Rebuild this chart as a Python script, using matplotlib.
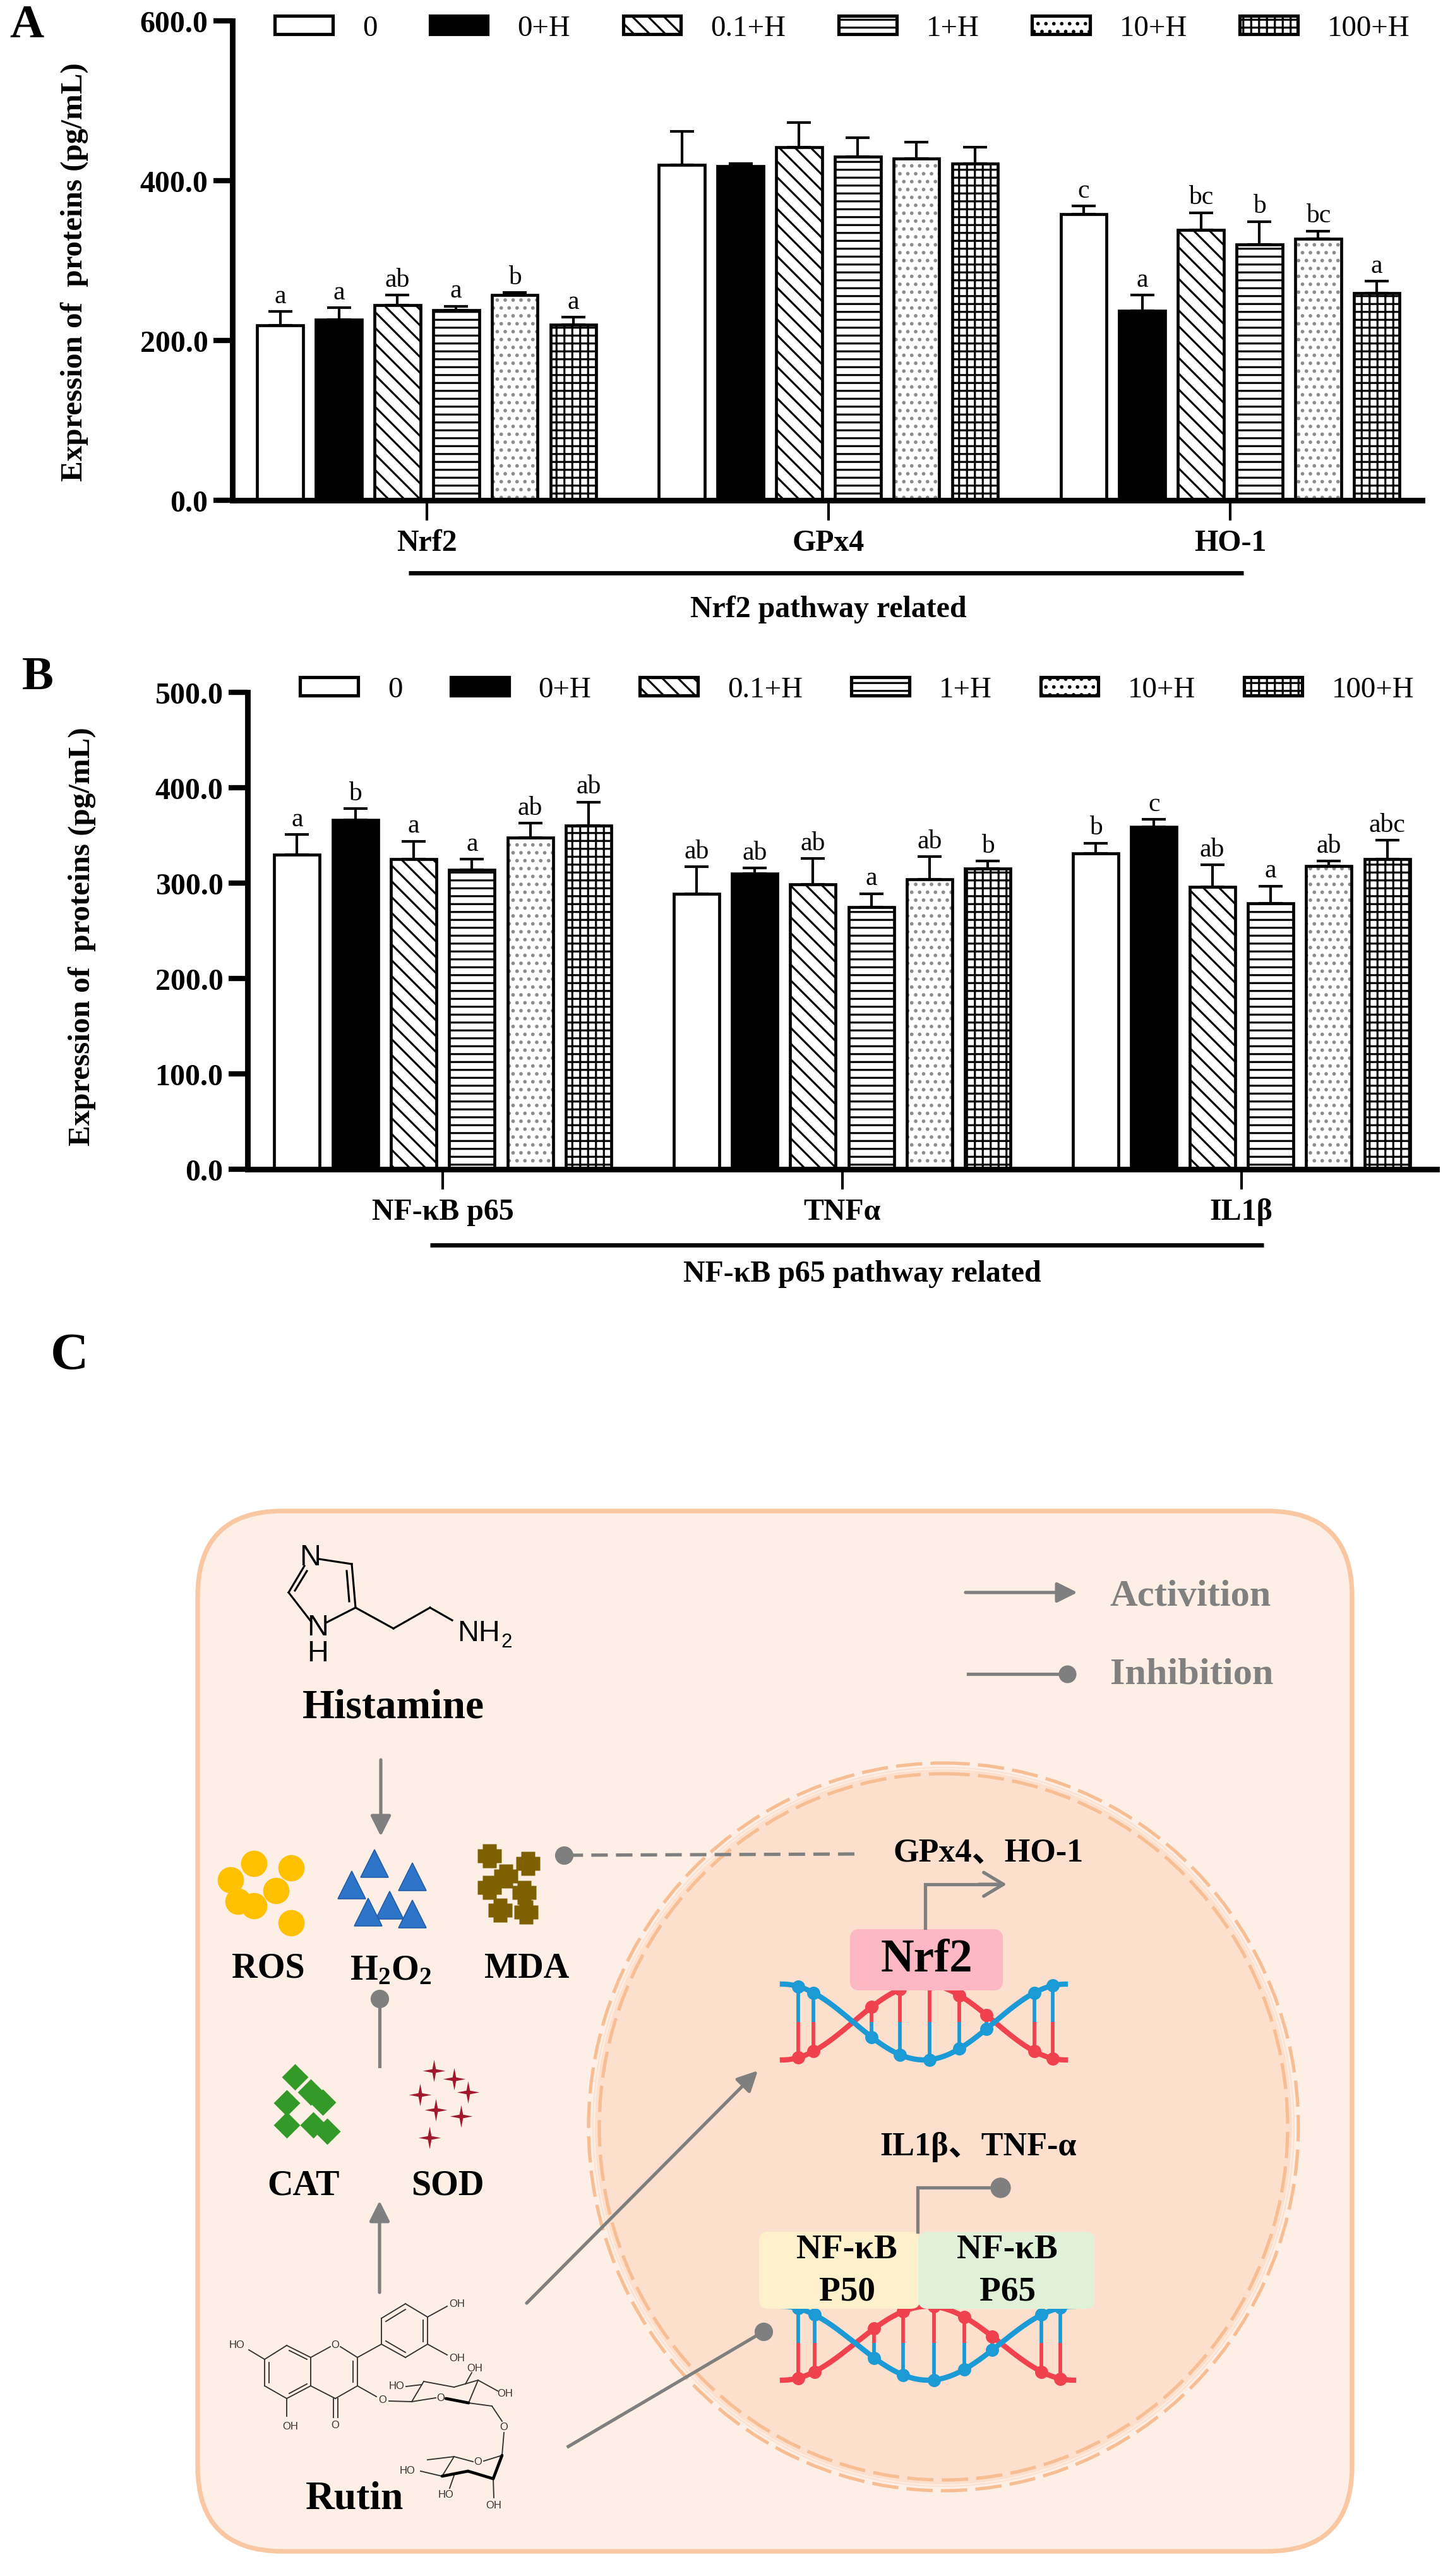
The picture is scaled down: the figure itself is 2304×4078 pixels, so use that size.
import numpy as np
import matplotlib
matplotlib.use('Agg')
import matplotlib.pyplot as plt
from matplotlib.patches import Patch, FancyBboxPatch, Ellipse, FancyArrowPatch
from matplotlib.path import Path
from matplotlib.transforms import blended_transform_factory

plt.rcParams['font.family'] = ['Liberation Serif', 'Noto Sans CJK SC', 'DejaVu Sans']
plt.rcParams['hatch.linewidth'] = 3.0
plt.rcParams['mathtext.fontset'] = 'custom'
plt.rcParams['mathtext.rm'] = 'Liberation Serif:bold'
plt.rcParams['mathtext.bf'] = 'Liberation Serif:bold'

# ---------------- data ----------------
groups = ['0', '0+H', '0.1+H', '1+H', '10+H', '100+H']

genes_a = ['Nrf2', 'GPx4', 'HO-1']
nrf2 = [219, 226, 244, 238, 257, 220]
nrf2_sd = [17, 15, 13, 5, 3, 9]
nrf2_sig = ['a', 'a', 'ab', 'a', 'b', 'a']
gpx4 = [420, 418, 442, 430, 428, 421]
gpx4_sd = [42, 3, 31, 24, 20, 21]
gpx4_sig = ['', '', '', '', '', '']
ho1 = [358, 237, 338, 320, 327, 259]
ho1_sd = [10, 20, 22, 29, 10, 15]
ho1_sig = ['c', 'a', 'bc', 'b', 'bc', 'a']

genes_b = ['NF-κB p65', 'TNFα', 'IL1β']
nfkb = [330, 366, 325, 314, 348, 360]
nfkb_sd = [21, 12, 19, 11, 15, 25]
nfkb_sig = ['a', 'b', 'a', 'a', 'ab', 'ab']
tnf = [289, 310, 299, 275, 304, 315]
tnf_sd = [28, 6, 27, 14, 24, 8]
tnf_sig = ['ab', 'ab', 'ab', 'a', 'ab', 'b']
il1b = [331, 359, 296, 279, 318, 325]
il1b_sd = [11, 8, 23, 18, 5, 20]
il1b_sig = ['b', 'c', 'ab', 'a', 'ab', 'abc']

faces = ['white', 'black', 'white', 'white', 'white', 'white']
hatches = [None, None, '\\', '-', '.', '+']
hatch_cols = ['black', 'black', 'black', 'black', '#8c8c8c', 'black']

W, H = 2304, 4079
DPI = 75
fig = plt.figure(figsize=(W / DPI, H / DPI), dpi=DPI)


def fx(px):
    return px / W


def fy(py):
    return 1 - py / H


def bar_panel(rect, xlim, ymax, ystep, genes, means, sds, sigs, ylab_x, ylab_y,
              leg_xy, colsp, bracket, note):
    left, top, right, bottom = rect
    ax = fig.add_axes([fx(left), fy(bottom), (right - left) / W, (bottom - top) / H])
    x = np.arange(len(genes))
    step, width = 0.146, 0.114
    handles = []
    for j, g in enumerate(groups):
        xs = x + (j - 2.5) * step
        vals = [m[j] for m in means]
        errs = [s[j] for s in sds]
        ax.bar(xs, vals, width, color=faces[j], edgecolor=hatch_cols[j],
               hatch=hatches[j], linewidth=0, zorder=2)
        ax.bar(xs, vals, width, fill=False, edgecolor='black', linewidth=4.5, zorder=3)
        ax.errorbar(xs, vals, yerr=[np.zeros(len(vals)), errs], fmt='none',
                    ecolor='black', elinewidth=4, capsize=18, capthick=4, zorder=4)
        for xi, v, e, s in zip(xs, vals, errs, [sg[j] for sg in sigs]):
            if s:
                ax.annotate(s, (xi, v + e), xytext=(0, 5), textcoords='offset points',
                            ha='center', va='bottom', fontsize=40)
        handles.append(Patch(facecolor=faces[j], edgecolor='black',
                             hatch=hatches[j], linewidth=5))

    ax.set_xlim(*xlim)
    ax.set_ylim(0, ymax)
    yt = np.arange(0, ymax + 1, ystep)
    ax.set_yticks(yt)
    ax.set_yticklabels([f'{v:.1f}' for v in yt], fontsize=46, fontweight='bold')
    ax.set_xticks(x)
    ax.set_xticklabels(genes, fontsize=46, fontweight='bold')
    for sp in ['top', 'right']:
        ax.spines[sp].set_visible(False)
    for sp in ['left', 'bottom']:
        ax.spines[sp].set_linewidth(8.5)
        ax.spines[sp].set_capstyle('projecting')
    ax.tick_params(axis='y', length=29, width=8, pad=8)
    ax.tick_params(axis='x', length=31, width=4, pad=12)
    ax.set_ylabel('Expression of  proteins (pg/mL)', fontsize=47, fontweight='bold')
    ax.yaxis.set_label_coords(ylab_x, ylab_y)

    fig.legend(handles, groups, loc='center left',
               bbox_to_anchor=(fx(leg_xy[0]), fy(leg_xy[1])), ncol=6, frameon=False,
               borderpad=0, borderaxespad=0, handlelength=1.96, handleheight=0.57,
               handletextpad=1.0, columnspacing=colsp, fontsize=45)

    tr = blended_transform_factory(ax.transData, ax.transAxes)
    ax.plot(bracket[:2], [bracket[2]] * 2, color='black', lw=6.5, transform=tr,
            clip_on=False, solid_capstyle='butt')
    ax.text(note[1], note[2], note[0], transform=tr, ha='center', va='center',
            fontsize=46, fontweight='bold')
    return ax


bar_panel((368, 34, 2252, 793), (-0.484, 2.478), 600, 200, genes_a,
          [nrf2, gpx4, ho1], [nrf2_sd, gpx4_sd, ho1_sd], [nrf2_sig, gpx4_sig, ho1_sig],
          -0.121, 0.478, (435, 46), 1.78, (-0.045, 2.033, -0.1515),
          ('Nrf2 pathway related', 1.0, -0.2266))
bar_panel((392, 1097, 2275, 1852), (-0.489, 2.489), 500, 100, genes_b,
          [nfkb, tnf, il1b], [nfkb_sd, tnf_sd, il1b_sd], [nfkb_sig, tnf_sig, il1b_sig],
          -0.1275, 0.489, (475, 1093), 1.64, (-0.032, 2.055, -0.159),
          ('NF-κB p65 pathway related', 1.05, -0.2185))

fig.text(fx(42), fy(41), 'A', fontsize=72, fontweight='bold', ha='center', va='center')
fig.text(fx(60), fy(1073), 'B', fontsize=72, fontweight='bold', ha='center', va='center')

# ---------------- panel C (schematic, pixel coordinates) ----------------
ax = fig.add_axes([0, 0, 1, 1 - 2080 / H])
ax.set_xlim(0, W)
ax.set_ylim(H, 2080)
ax.axis('off')

GRAY = '#7f7f7f'
BLUE = '#1b9ad6'
RED = '#f0414f'

ax.text(110, 2148, 'C', fontsize=80, fontweight='bold', ha='center', va='center')

# cell and nucleus
ax.add_patch(FancyBboxPatch((313, 2393), 2141 - 313, 4040 - 2393,
                            boxstyle='round,pad=0,rounding_size=135',
                            fc='#fdefe6', ec='#f9c8a3', lw=7, zorder=1))
nuc_c, nuc_w, nuc_h = (1494, 3368), 1124, 1152
ax.add_patch(Ellipse(nuc_c, nuc_w - 12, nuc_h - 12, fc='#fce0cd', ec='none', zorder=1.5))
ax.add_patch(Ellipse(nuc_c, nuc_w - 18, nuc_h - 18, fill=False, ec='#fdeee4', lw=2, zorder=1.6))
for d in [0, 34]:
    ax.add_patch(Ellipse(nuc_c, nuc_w - d, nuc_h - d, fill=False, ec='#f7bd93', lw=5,
                         linestyle=(0, (8, 2.5)), zorder=1.7))

# legend of symbols
ax.add_patch(FancyArrowPatch((1529, 2522), (1706, 2522),
                             arrowstyle='-|>,head_length=26,head_width=13',
                             color=GRAY, lw=5, shrinkA=0, shrinkB=0, zorder=6))
ax.plot([1533, 1690], [2651, 2651], color=GRAY, lw=5, zorder=6)
ax.plot([1690], [2651], 'o', color=GRAY, ms=26, zorder=6)
ax.text(1757, 2528, 'Activition', color='#808080', fontsize=58, fontweight='bold',
        ha='left', va='center')
ax.text(1758, 2652, 'Inhibition', color='#808080', fontsize=58, fontweight='bold',
        ha='left', va='center')

# histamine
hist_bonds = [((505, 2469), (557, 2477)), ((557, 2477), (563, 2546)),
              ((549, 2488), (553, 2536)), ((563, 2546), (516, 2570)),
              ((491, 2566), (457, 2522)), ((457, 2522), (482, 2480)),
              ((467, 2519), (486, 2488)), ((563, 2546), (623, 2579)),
              ((623, 2579), (681, 2546)), ((681, 2546), (716, 2566))]
for (x0, y0), (x1, y1) in hist_bonds:
    ax.plot([x0, x1], [y0, y1], color='black', lw=3, zorder=5)
for xa, ya, s in [(491, 2466, 'N'), (503, 2577, 'N'), (503, 2618, 'H')]:
    ax.text(xa, ya, s, family='Liberation Sans', fontsize=45, ha='center', va='center', zorder=5)
ax.text(724, 2586, 'NH', family='Liberation Sans', fontsize=45, ha='left', va='center')
ax.text(793, 2600, '2', family='Liberation Sans', fontsize=30, ha='left', va='center')
ax.text(623, 2704, 'Histamine', fontsize=63, fontweight='bold', ha='center', va='center')

# ROS / H2O2 / MDA
ros_xy = [(402, 2951), (461, 2958), (365, 2977), (437, 2994), (377, 3011), (402, 3018), (461, 3045)]
h2o2_xy = [(593, 2951), (557, 2985), (653, 2972), (617, 3017), (583, 3028), (653, 3031)]
mda_xy = [(775, 2939), (836, 2951), (801, 2971), (775, 2989), (830, 2997), (792, 3025), (833, 3028)]
cat_xy = [(467, 3289), (454, 3330), (492, 3313), (511, 3329), (454, 3365), (496, 3365), (518, 3375)]
sod_xy = [(687, 3279), (719, 3292), (741, 3313), (665, 3317), (690, 3341), (730, 3351), (680, 3385)]

plus_mk = Path([(-0.3, -0.5), (0.3, -0.5), (0.3, -0.3), (0.5, -0.3), (0.5, 0.3), (0.3, 0.3),
                (0.3, 0.5), (-0.3, 0.5), (-0.3, 0.3), (-0.5, 0.3), (-0.5, -0.3), (-0.3, -0.3),
                (-0.3, -0.5)], closed=True)
star_mk = Path([(0, 1), (0.16, 0.16), (1, 0), (0.16, -0.16), (0, -1), (-0.16, -0.16),
                (-1, 0), (-0.16, 0.16), (0, 1)], closed=True)

ax.plot(*zip(*ros_xy), 'o', color='#ffc000', ms=40, mec='none', zorder=5)
ax.plot(*zip(*h2o2_xy), '^', color='#2e74c9', ms=42, mec='#1f5ba8', mew=1.5, zorder=5)
ax.plot(*zip(*mda_xy), marker=plus_mk, ls='none', color='#7f6000', ms=36, mec='none', zorder=5)
ax.plot(*zip(*cat_xy), 'D', color='#339a2a', ms=28, mec='none', zorder=5)
ax.plot(*zip(*sod_xy), marker=star_mk, ls='none', color='#a0182a', ms=34, mec='none', zorder=5)

ax.text(425, 3117, 'ROS', fontsize=54, fontweight='bold', ha='center', va='center')
ax.text(619, 3120, r'$\mathrm{H_2O_2}$', fontsize=54, ha='center', va='center')
ax.text(834, 3117, 'MDA', fontsize=54, fontweight='bold', ha='center', va='center')
ax.text(480, 3461, 'CAT', fontsize=54, fontweight='bold', ha='center', va='center')
ax.text(709, 3461, 'SOD', fontsize=54, fontweight='bold', ha='center', va='center')


def arrow(p0, p1, style='-|>', hl=26, hw=13):
    ax.add_patch(FancyArrowPatch(p0, p1, arrowstyle=f'{style},head_length={hl},head_width={hw}',
                                 color=GRAY, lw=5, shrinkA=0, shrinkB=0, zorder=6))


def inhibit(p0, p1, dashed=False):
    ax.plot([p0[0], p1[0]], [p0[1], p1[1]], color=GRAY, lw=5, zorder=6,
            ls=(0, (5, 2.5)) if dashed else '-')
    ax.plot([p1[0]], [p1[1]], 'o', color=GRAY, ms=27, zorder=6)


arrow((603, 2787), (603, 2908))
arrow((601, 3630), (601, 3485))
inhibit((601, 3272), (601, 3165))
inhibit((1353, 2936), (893, 2938), dashed=True)
arrow((834, 3647), (1200, 3279))
inhibit((900, 3874), (1209, 3692))

# DNA helices
dna_rungs = [0.055, 0.11, 0.315, 0.415, 0.52, 0.625, 0.72, 0.89, 0.955]
dna_dots = [0.055, 0.11, 0.315, 0.415, 0.52, 0.625, 0.72, 0.89, 0.955]


def dna(x0, x1, ytop, ybot):
    t = np.linspace(0, 1, 300)
    xs = x0 + (x1 - x0) * t
    ym, amp = (ytop + ybot) / 2, (ybot - ytop) / 2
    for tr in dna_rungs:
        xr = x0 + (x1 - x0) * tr
        b = ym - amp * np.cos(2 * np.pi * tr)
        r = ym + amp * np.cos(2 * np.pi * tr)
        mid = (b + r) / 2
        ax.plot([xr, xr], [b, mid], color=BLUE, lw=5.5, zorder=3, solid_capstyle='butt')
        ax.plot([xr, xr], [mid, r], color=RED, lw=5.5, zorder=3, solid_capstyle='butt')
    ax.plot(xs, ym + amp * np.cos(2 * np.pi * t), color=RED, lw=8, zorder=3.1)
    ax.plot(xs, ym - amp * np.cos(2 * np.pi * t), color=BLUE, lw=8, zorder=3.2)
    td = np.array(dna_dots)
    xd = x0 + (x1 - x0) * td
    ax.plot(xd, ym - amp * np.cos(2 * np.pi * td), 'o', color=BLUE, ms=19, zorder=3.3)
    ax.plot(xd, ym + amp * np.cos(2 * np.pi * td), 'o', color=RED, ms=19, zorder=3.3)


dna(1239, 1687, 3142, 3262)
dna(1239, 1700, 3652, 3769)

# Nrf2 box and target genes
ax.add_patch(FancyBboxPatch((1346, 3055), 242, 97, boxstyle='round,pad=0,rounding_size=15',
                            fc='#fdb8c3', ec='none', zorder=4))
ax.text(1467, 3103, 'Nrf2', fontsize=70, fontweight='bold', ha='center', va='center', zorder=5)
ax.plot([1465, 1465, 1580], [3053, 2984, 2984], color=GRAY, lw=5, zorder=6,
        solid_joinstyle='miter')
arrow((1550, 2984), (1594, 2984), style='->', hl=30, hw=18)
ax.text(1565, 2933, 'GPx4、HO-1', fontsize=50, fontweight='bold', ha='center', va='center')

# NF-kB boxes
ax.add_patch(FancyBboxPatch((1202, 3534), 255, 122, boxstyle='round,pad=0,rounding_size=15',
                            fc='#fef1cb', ec='none', zorder=4))
ax.add_patch(FancyBboxPatch((1454, 3534), 280, 122, boxstyle='round,pad=0,rounding_size=15',
                            fc='#e0f1d8', ec='none', zorder=4))
for xc, sub in [(1341, 'P50'), (1595, 'P65')]:
    ax.text(xc, 3562, 'NF-κB', fontsize=53, fontweight='bold', ha='center', va='center', zorder=5)
    ax.text(xc, 3629, sub, fontsize=53, fontweight='bold', ha='center', va='center', zorder=5)
ax.plot([1453, 1453, 1584], [3534, 3464, 3464], color=GRAY, lw=5, zorder=6,
        solid_joinstyle='miter')
ax.plot([1584], [3464], 'o', color=GRAY, ms=30, zorder=6)
ax.text(1549, 3399, 'IL1β、TNF-α', fontsize=50, fontweight='bold', ha='center', va='center')

# rutin
rutin_bonds = [
    ((419, 3736), (454, 3714)), ((454, 3714), (492, 3733)), ((492, 3733), (492, 3778)),
    ((492, 3778), (454, 3798)), ((454, 3798), (419, 3778)), ((419, 3778), (419, 3736)),
    ((426, 3741), (426, 3773)), ((458, 3722), (486, 3736)), ((458, 3790), (486, 3775)),
    ((492, 3733), (523, 3716)), ((539, 3716), (566, 3733)), ((566, 3733), (566, 3778)),
    ((559, 3739), (559, 3772)), ((566, 3778), (531, 3798)), ((531, 3798), (492, 3778)),
    ((604, 3671), (642, 3648)), ((642, 3648), (677, 3669)), ((677, 3669), (677, 3712)),
    ((677, 3712), (642, 3733)), ((642, 3733), (604, 3712)), ((604, 3712), (604, 3671)),
    ((611, 3676), (642, 3657)), ((670, 3674), (670, 3708)), ((611, 3707), (642, 3725)),
    ((566, 3733), (604, 3712)),
    ((677, 3669), (708, 3652)), ((677, 3712), (708, 3729)), ((419, 3736), (394, 3721)),
    ((454, 3798), (454, 3826)), ((528, 3798), (528, 3828)), ((535, 3798), (535, 3828)),
    ((566, 3778), (596, 3795)),
    ((616, 3802), (652, 3803)), ((652, 3803), (671, 3771)), ((671, 3771), (719, 3780)),
    ((719, 3780), (757, 3769)), ((757, 3769), (742, 3805)), ((690, 3797), (652, 3803)),
    ((643, 3779), (668, 3776)), ((737, 3775), (747, 3757)), ((757, 3769), (788, 3786)),
    ((742, 3805), (779, 3810)), ((779, 3810), (795, 3834)),
    ((798, 3852), (795, 3888)), ((795, 3888), (766, 3897)), ((749, 3898), (719, 3890)),
    ((719, 3890), (700, 3921)), ((719, 3890), (677, 3895)),
    ((700, 3921), (666, 3913)), ((720, 3917), (712, 3940)), ((781, 3925), (782, 3955)),
]
rutin_wedges = [((742, 3805), (706, 3798)), ((700, 3921), (741, 3913)),
                ((741, 3913), (781, 3925)), ((781, 3925), (795, 3888))]
rutin_labels = [(375, 3713, 'HO'), (724, 3648, 'OH'), (724, 3734, 'OH'), (460, 3842, 'OH'),
                (531, 3840, 'O'), (531, 3713, 'O'), (606, 3800, 'O'), (698, 3797, 'O'),
                (628, 3778, 'HO'), (752, 3750, 'OH'), (800, 3790, 'OH'), (798, 3843, 'O'),
                (757, 3898, 'O'), (645, 3912, 'HO'), (706, 3950, 'HO'), (782, 3967, 'OH')]
for (x0, y0), (x1, y1) in rutin_bonds:
    ax.plot([x0, x1], [y0, y1], color='#333333', lw=1.8, zorder=5)
for (x0, y0), (x1, y1) in rutin_wedges:
    ax.plot([x0, x1], [y0, y1], color='black', lw=4.5, zorder=5, solid_capstyle='round')
for xl, yl, s in rutin_labels:
    ax.text(xl, yl, s, family='Liberation Sans', fontsize=16, color='#333333',
            ha='center', va='center', zorder=5)
ax.text(562, 3957, 'Rutin', fontsize=61, fontweight='bold', ha='center', va='center')

fig.savefig('out.png', dpi=DPI)
